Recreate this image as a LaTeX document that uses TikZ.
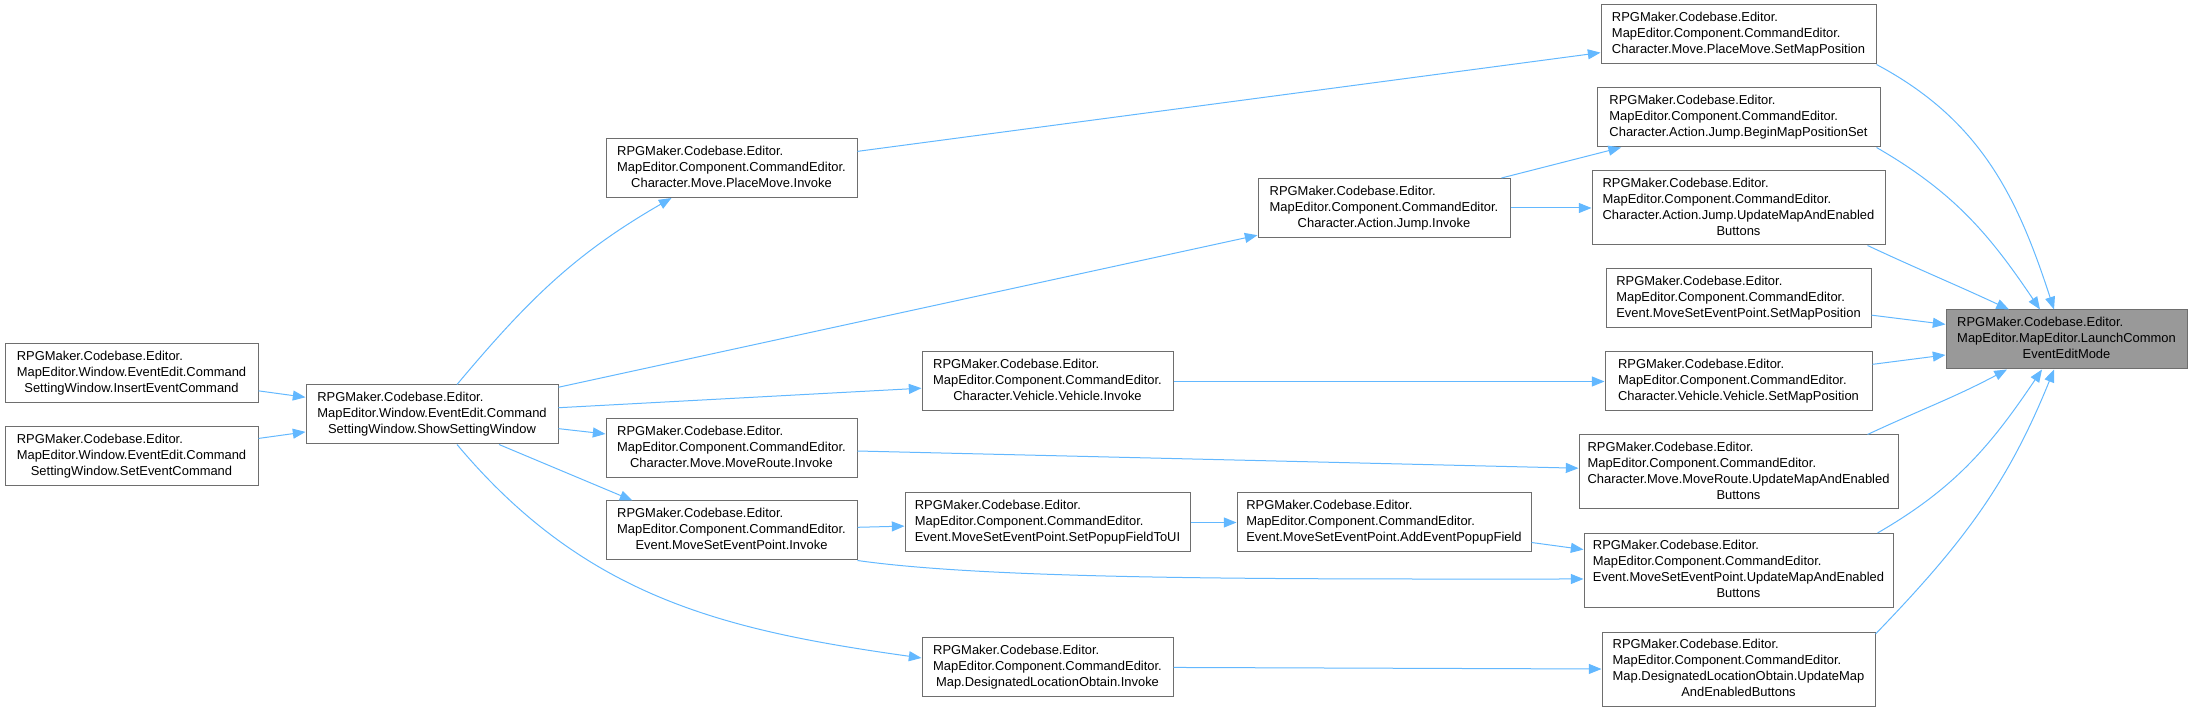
\documentclass[tikz,border=0pt]{standalone}
\usepackage{fontspec}
\setmainfont{Liberation Sans}
\usepackage{tikz}
\usetikzlibrary{arrows.meta,calc}
\definecolor{edgeblue}{RGB}{99,184,255}
\definecolor{boxline}{RGB}{110,110,110}
\definecolor{hilite}{RGB}{153,153,153}
% three and four line labels: left lines, last line centred
\newcommand{\fnthree}[3]{\begin{tabular}{@{}l@{}}#1\\#2\\\multicolumn{1}{@{}c@{}}{#3}\end{tabular}}
\newcommand{\fnfour}[4]{\begin{tabular}{@{}l@{}}#1\\#2\\#3\\\multicolumn{1}{@{}c@{}}{#4}\end{tabular}}
\tikzset{
  fn/.style={rectangle,draw=boxline,fill=white,line width=0.75pt,inner sep=2pt,minimum height=44.25pt,font=\fontsize{9.7}{12}\selectfont},
  fnhi/.style={fn,fill=hilite},
  tall/.style={minimum height=55.5pt},
  wd/.style={minimum width=#1*0.75pt},
  call/.style={-{Triangle[length=9.5pt,width=7.5pt]},draw=edgeblue,line width=0.75pt}
}
\begin{document}
\begin{tikzpicture}[x=0.75pt,y=0.75pt]
  \useasboundingbox (0,0) rectangle (2193,-712);

  % callers on the left
  \node[fn,wd=253] (InsertCmd) at (131.5,-373.5) {\fnthree{RPGMaker.Codebase.Editor.}{MapEditor.Window.EventEdit.Command}{SettingWindow.InsertEventCommand}};
  \node[fn,wd=253] (SetEventCmd) at (131.5,-456) {\fnthree{RPGMaker.Codebase.Editor.}{MapEditor.Window.EventEdit.Command}{SettingWindow.SetEventCommand}};
  \node[fn,wd=252] (ShowSetting) at (432,-414.5) {\fnthree{RPGMaker.Codebase.Editor.}{MapEditor.Window.EventEdit.Command}{SettingWindow.ShowSettingWindow}};

  % invoke column
  \node[fn,wd=251] (PlaceMoveInv) at (731.5,-168) {\fnthree{RPGMaker.Codebase.Editor.}{MapEditor.Component.CommandEditor.}{Character.Move.PlaceMove.Invoke}};
  \node[fn,wd=251] (MoveRouteInv) at (731.5,-448) {\fnthree{RPGMaker.Codebase.Editor.}{MapEditor.Component.CommandEditor.}{Character.Move.MoveRoute.Invoke}};
  \node[fn,wd=251] (MsepInv) at (731.5,-530.5) {\fnthree{RPGMaker.Codebase.Editor.}{MapEditor.Component.CommandEditor.}{Event.MoveSetEventPoint.Invoke}};
  \node[fn,wd=251] (VehicleInv) at (1047.5,-381.5) {\fnthree{RPGMaker.Codebase.Editor.}{MapEditor.Component.CommandEditor.}{Character.Vehicle.Vehicle.Invoke}};
  \node[fn,wd=285] (PopupToUI) at (1047.5,-522.5) {\fnthree{RPGMaker.Codebase.Editor.}{MapEditor.Component.CommandEditor.}{Event.MoveSetEventPoint.SetPopupFieldToUI}};
  \node[fn,wd=251] (DesigInv) at (1047.5,-667) {\fnthree{RPGMaker.Codebase.Editor.}{MapEditor.Component.CommandEditor.}{Map.DesignatedLocationObtain.Invoke}};
  \node[fn,wd=252] (JumpInv) at (1384,-208) {\fnthree{RPGMaker.Codebase.Editor.}{MapEditor.Component.CommandEditor.}{Character.Action.Jump.Invoke}};
  \node[fn,wd=294] (AddPopup) at (1384,-522.5) {\fnthree{RPGMaker.Codebase.Editor.}{MapEditor.Component.CommandEditor.}{Event.MoveSetEventPoint.AddEventPopupField}};

  % right column
  \node[fn,wd=275] (PlaceMoveSet) at (1738.5,-34.5) {\fnthree{RPGMaker.Codebase.Editor.}{MapEditor.Component.CommandEditor.}{Character.Move.PlaceMove.SetMapPosition}};
  \node[fn,wd=283] (JumpBegin) at (1738.5,-117.5) {\fnthree{RPGMaker.Codebase.Editor.}{MapEditor.Component.CommandEditor.}{Character.Action.Jump.BeginMapPositionSet}};
  \node[fn,tall,wd=293] (JumpUpd) at (1738.5,-208) {\fnfour{RPGMaker.Codebase.Editor.}{MapEditor.Component.CommandEditor.}{Character.Action.Jump.UpdateMapAndEnabled}{Buttons}};
  \node[fn,wd=265] (MsepSet) at (1738.5,-298.5) {\fnthree{RPGMaker.Codebase.Editor.}{MapEditor.Component.CommandEditor.}{Event.MoveSetEventPoint.SetMapPosition}};
  \node[fn,wd=267] (VehicleSet) at (1738.5,-381.5) {\fnthree{RPGMaker.Codebase.Editor.}{MapEditor.Component.CommandEditor.}{Character.Vehicle.Vehicle.SetMapPosition}};
  \node[fn,tall,wd=319] (MoveRouteUpd) at (1738.5,-472) {\fnfour{RPGMaker.Codebase.Editor.}{MapEditor.Component.CommandEditor.}{Character.Move.MoveRoute.UpdateMapAndEnabled}{Buttons}};
  \node[fn,tall,wd=309] (MsepUpd) at (1738.5,-570.5) {\fnfour{RPGMaker.Codebase.Editor.}{MapEditor.Component.CommandEditor.}{Event.MoveSetEventPoint.UpdateMapAndEnabled}{Buttons}};
  \node[fn,tall,wd=273] (DesigUpd) at (1738.5,-669.5) {\fnfour{RPGMaker.Codebase.Editor.}{MapEditor.Component.CommandEditor.}{Map.DesignatedLocationObtain.UpdateMap}{AndEnabledButtons}};

  \node[fnhi,wd=241] (Launch) at (2066.5,-339.5) {\fnthree{RPGMaker.Codebase.Editor.}{MapEditor.MapEditor.LaunchCommon}{EventEditMode}};

  % calls
  \draw[call] (InsertCmd) -- (ShowSetting);
  \draw[call] (SetEventCmd) -- (ShowSetting);
  \draw[call] ($(ShowSetting.north)+(25,0)$) to[out=50,in=-150] ($(PlaceMoveInv.south west)+(66,0)$);
  \draw[call] (ShowSetting) -- (JumpInv);
  \draw[call] (ShowSetting) -- (VehicleInv);
  \draw[call] (ShowSetting) -- (MoveRouteInv);
  \draw[call] ($(ShowSetting.south)+(67,0)$) -- ($(MsepInv.north west)+(27,0)$);
  \draw[call] ($(ShowSetting.south)+(25,0)$) to[out=-50,in=172] ($(DesigInv.west)+(0,9)$);

  \draw[call] (PlaceMoveInv) -- (PlaceMoveSet);
  \draw[call] (JumpInv) -- (JumpBegin);
  \draw[call] (JumpInv) -- (JumpUpd);
  \draw[call] (VehicleInv) -- (VehicleSet);
  \draw[call] (MoveRouteInv) -- (MoveRouteUpd);
  \draw[call] (MsepInv) -- (PopupToUI);
  \draw[call] (MsepInv.south east) .. controls +(140,-20) and +(-280,0) .. ($(MsepUpd.west)+(0,-8.5)$);
  \draw[call] (PopupToUI) -- (AddPopup);
  \draw[call] (AddPopup) -- (MsepUpd);
  \draw[call] (DesigInv) -- (DesigUpd);

  \draw[call] (PlaceMoveSet.south east) to[out=-28,in=108] ($(Launch.north)+(-12.5,0)$);
  \draw[call] ($(JumpBegin.south east)+(-4,0)$) to[out=-30,in=124] ($(Launch.north)+(-26.5,0)$);
  \draw[call] ($(JumpUpd.south east)+(-18,0)$) to[out=-25,in=155] ($(Launch.north)+(-57.5,0)$);
  \draw[call] (MsepSet) -- (Launch);
  \draw[call] (VehicleSet) -- (Launch);
  \draw[call] ($(MoveRouteUpd.north east)+(-31,0)$) to[out=25,in=-152] ($(Launch.south)+(-59.5,0)$);
  \draw[call] ($(MsepUpd.north east)+(-16,0)$) to[out=30,in=-124] ($(Launch.south)+(-24.5,0)$);
  \draw[call] ($(DesigUpd.north east)+(0,-2)$) to[out=46,in=-112] ($(Launch.south)+(-12.5,0)$);
\end{tikzpicture}
\end{document}
